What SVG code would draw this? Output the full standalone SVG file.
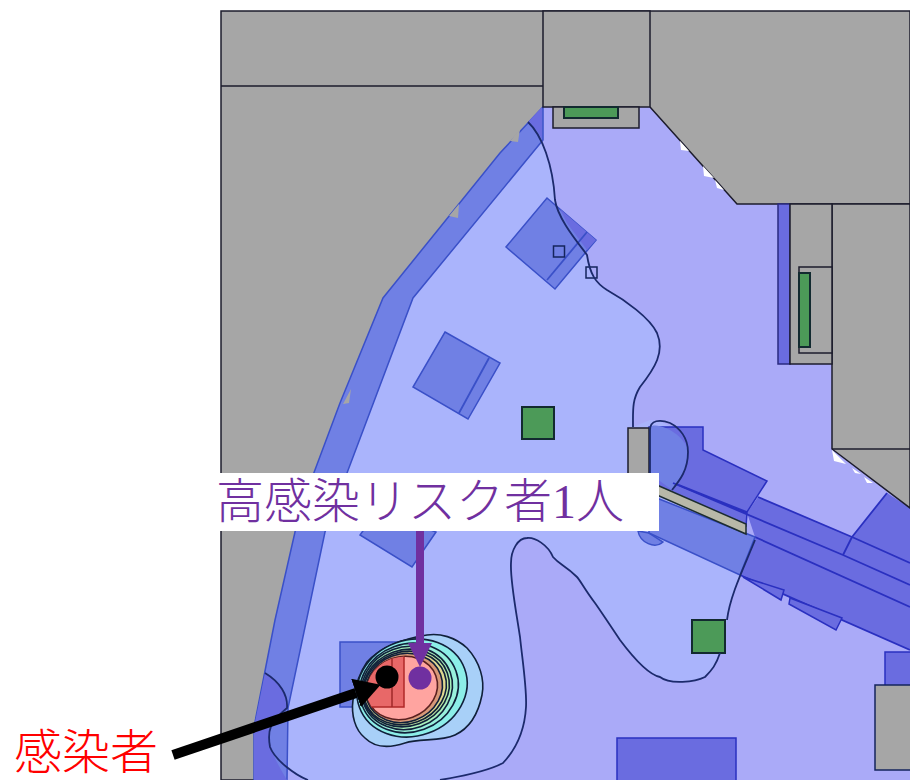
<svg xmlns="http://www.w3.org/2000/svg" width="910" height="780" viewBox="0 0 910 780">
<style>
.g{fill:#a6a6a6;stroke:#1c1c2c;stroke-width:1.5}
.b{fill:#6a6ce0;stroke:#2a30c0;stroke-width:1.5}
.l{fill:#7080e4;stroke:#3a50c8;stroke-width:1.5}
.gr{fill:#4c9a58;stroke:#122a30;stroke-width:2}
.c{fill:none;stroke:#1c2a6c;stroke-width:1.8}
.r{stroke:#10203a;stroke-width:1.6}
.t{font-family:"Liberation Serif","Noto Sans CJK JP",serif;font-size:48px;font-weight:300}
</style>
<defs>
<clipPath id="hot"><ellipse cx="402" cy="688" rx="36" ry="31" transform="rotate(-20 402 688)"/></clipPath>
<marker id="pa" markerUnits="userSpaceOnUse" markerWidth="24" markerHeight="24" refX="0" refY="12" orient="auto"><path d="M0 0L24 12L0 24Z" fill="#7030a0"/></marker>
<marker id="ba" markerUnits="userSpaceOnUse" markerWidth="28" markerHeight="30" refX="0" refY="15" orient="auto"><path d="M0 0L26 15L0 30Z" fill="#000"/></marker>
</defs>
<rect width="910" height="780" fill="#fff"/>
<rect x="221" y="11" width="689" height="769" class="g"/>
<path id="room" d="M543 107H650L737 204H778V364H832V449L910 508V780H254V727L275 620L300 510L340 403L383 298L500 153Z" fill="#aaaaf8"/>
<path id="low-zone" d="M528 122C542 135 553 165 555 200C558 220 580 245 587 255C590 275 596 283 607 290C625 300 650 318 657 333C665 352 655 368 640 387C632 400 633 410 633 427L650 420C670 421 688 438 688 452C688 470 680 480 672 490L755 540C745 565 730 595 727 620L720 653C716 665 712 670 705 677C695 682 670 685 660 677C650 675 635 660 620 640C610 625 600 610 595 603C585 590 580 580 577 577C565 565 560 565 553 557C548 545 535 537 527 538C518 538 511 550 511 563C510 580 516 610 520 637C523 665 527 690 526 707C525 725 520 745 503 763C490 770 470 775 440 780L304 780C295 775 275 760 269 743C267 730 270 722 287 708C288 695 280 682 265 673L275 620L300 510L340 403L383 298L500 153Z" fill="#aab4fc"/>
<g id="furniture">
<path class="l" d="M543 107V140L413 298L347 473L325 532L288 708L287 780H254V727L275 620L300 510L340 403L383 298L500 153Z"/>
<path d="M542 107L528 122C535 128 540 134 542 140Z" fill="#6a6ce0"/>
<path d="M265 673C280 682 288 695 287 708L270 727C267 745 275 760 287 780H254V727Z" fill="#6a6ce0"/>
<path class="l" d="M547 198L596 240L555 289L506 247Z"/>
<path d="M560 209L596 240L587 250L567 223Z" fill="#6a6ce0"/>
<path class="c" style="stroke:#3a50c8" d="M587 232L547 280"/>
<path class="l" d="M445 332L500 363L468 419L413 387Z"/>
<path class="c" style="stroke:#3a50c8" d="M489 358L459 413"/>
<path class="l" d="M378 510L360 535L412 567L436 532Z"/>
<rect class="l" x="340" y="642" width="64" height="65"/>
<path fill="#6a6ce0" d="M758 497L852 537L887 493L910 508V650L740 575L755 537L747 513Z"/>
<path class="b" d="M649 473L747 513L746 526L650 484Z"/>
<path class="b" d="M649 427H703V450L767 481L747 512L649 473Z"/>
<path d="M649 427C660 420 688 438 688 452C688 470 680 480 672 490L649 473Z" fill="#7080e4"/>
<path class="c" style="stroke:#2a30c0" d="M758 497L852 537L887 493M740 575L910 650M673 483L843 555L910 585M755 537L910 607M852 537L843 555M852 537L910 563"/>
<path class="b" d="M743 577L784 590L781 600Z"/>
<path class="b" d="M790 598L842 618L836 630L789 604Z"/>
<path class="l" d="M638 531C640 543 655 549 663 542L649 533Z"/>
<path class="l" d="M649 495L755 537L740 575L649 533Z"/>
<rect class="b" x="617" y="738" width="119" height="44"/>
<rect class="b" x="885" y="652" width="27" height="34"/>
</g>
<g id="walls">
<path class="g" style="fill:none" d="M221 86H543M650 107L737 204H910"/>
<rect class="g" x="543" y="11" width="107" height="96"/>
<rect class="g" x="553" y="107" width="86" height="21"/>
<rect class="gr" x="564" y="107" width="54" height="11"/>
<path class="g" d="M832 204H910V508L832 449Z"/>
<path class="g" style="fill:none" d="M832 449H910"/>
<rect class="b" x="778" y="204" width="12" height="160" style="stroke:#2a2a80"/>
<rect class="g" x="790" y="204" width="42" height="160"/>
<rect class="g" x="799" y="267" width="33" height="86"/>
<rect class="gr" x="799" y="273" width="11" height="74"/>
<rect class="g" x="628" y="428" width="21" height="60"/>
<path d="M650 482L746 524V534L650 492Z" fill="#b8b8a8" stroke="#1c2c30" stroke-width="1.5"/>
<rect class="g" x="875" y="685" width="37" height="85" style="stroke:#14245c"/>
<rect class="gr" x="522" y="407" width="32" height="32"/>
<rect class="gr" x="692" y="620" width="33" height="33"/>
<rect x="553.500" y="246" width="11" height="11" fill="none" stroke="#14245c" stroke-width="1.500"/>
<rect x="586" y="267" width="11" height="11" fill="none" stroke="#14245c" stroke-width="1.500"/>
<path fill="#fff" d="M680 141L689 151L681 150ZM703 166L714 178L704 176ZM715 180L724 190L717 188ZM832 450L846 464L834 461ZM852 468L861 474L855 473ZM864 477L873 483L867 483Z"/>
<path fill="#a6a6a6" d="M510 141L520 129L518 142ZM449 216L459 204L458 218ZM343 404L351 389L349 403ZM299 525L304 510L305 527Z"/>
</g>
<g id="contours">
<path class="c" d="M528 122C542 135 553 165 555 200C558 220 580 245 587 255C590 275 596 283 607 290C625 300 650 318 657 333C665 352 655 368 640 387C632 400 633 410 633 427"/>
<path class="c" d="M650 473V430C650 420 660 419 670 423C680 428 688 438 688 452C688 470 680 480 672 490"/>
<path class="c" d="M755 540C745 565 730 595 727 620M720 653C716 665 712 670 705 677C695 682 670 685 660 677C650 675 635 660 620 640C610 625 600 610 595 603C585 590 580 580 577 577C565 565 560 565 553 557C548 545 535 537 527 538C518 538 511 550 511 563C510 580 516 610 520 637C523 665 527 690 526 707C525 725 520 745 503 763C490 770 470 775 440 780"/>
<path class="c" d="M308 780C295 775 275 760 270 747C267 730 270 722 287 708C288 695 280 682 265 673"/>
</g>
<g id="plume" class="r">
<path fill="#a8d0f8" d="M427 635C440 633 455 637 467 648C480 662 485 680 482 695C478 715 470 728 455 735C440 742 420 738 405 743C390 748 375 748 365 738C355 730 351 715 353 700C356 682 360 672 367 662C378 650 395 640 427 635Z"/>
<ellipse fill="#8ceee8" cx="412" cy="688" rx="56" ry="48" transform="rotate(-20 412 688)"/>
<ellipse fill="#98f0dc" cx="409" cy="688" rx="50" ry="44" transform="rotate(-20 409 688)"/>
<ellipse fill="#a8f0bc" cx="407" cy="688" rx="46" ry="41" transform="rotate(-20 407 688)"/>
<ellipse fill="#c0e8a0" cx="406" cy="688" rx="44" ry="38" transform="rotate(-20 406 688)"/>
<ellipse fill="#e0d890" cx="405" cy="688" rx="42" ry="36" transform="rotate(-20 405 688)"/>
<ellipse fill="#d89878" cx="404" cy="688" rx="39" ry="34" transform="rotate(-20 404 688)"/>
<ellipse fill="#ffa4a0" cx="402" cy="688" rx="36" ry="31" stroke="#5a2020" transform="rotate(-20 402 688)"/>
<g clip-path="url(#hot)">
<rect x="340" y="642" width="64" height="65" fill="#e86868" stroke="#b02828" stroke-width="1.500"/>
<path d="M392 642V707" stroke="#a02828" stroke-width="1.500"/>
</g>
</g>
<rect id="label-bg" x="213" y="473" width="446" height="58" fill="#fff"/>
<g id="connectors">
<path d="M420 531V643" stroke="#7030a0" stroke-width="8" fill="none" marker-end="url(#pa)"/>
<path d="M173 755L356 693" stroke="#000" stroke-width="10" fill="none" marker-end="url(#ba)"/>
</g>
<circle id="infected" cx="387" cy="677" r="11.500" fill="#000"/>
<circle id="at-risk" cx="420" cy="678" r="11.500" fill="#7030a0"/>
<text class="t" x="216" y="518" fill="#7030a0">高感染リスク者1人</text>
<text class="t" x="14" y="769" fill="#ff0000">感染者</text>
</svg>
